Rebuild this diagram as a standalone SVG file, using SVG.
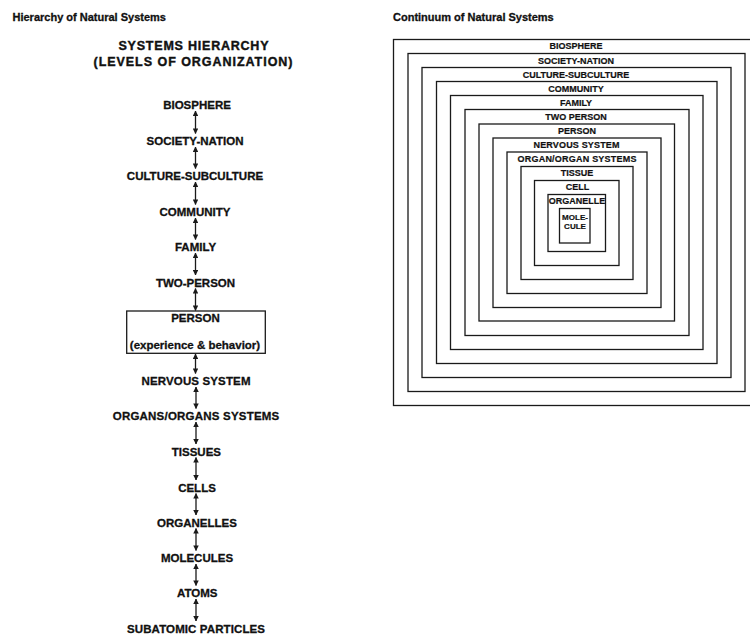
<svg xmlns="http://www.w3.org/2000/svg" width="750" height="634" viewBox="0 0 750 634">
<style>
  text { font-family: "Liberation Sans", Arial, sans-serif; font-weight: bold; fill: #111; stroke: #111; stroke-width: 0.3; }
  .title { font-size: 11px; }
  .head { font-size: 12.5px; text-anchor: middle; stroke-width: 0.4; }
  .lvl { font-size: 11.5px; text-anchor: middle; }
  .sq { font-size: 9px; text-anchor: middle; stroke-width: 0.2; }
  .sq8 { font-size: 8px; text-anchor: middle; stroke-width: 0.2; }
  .box { fill: none; stroke: #1a1a1a; stroke-width: 1.3; }
  .conn line { stroke: #1a1a1a; stroke-width: 1.3; marker-start: url(#ah); marker-end: url(#ah); }
</style>
<defs>
  <marker id="ah" viewBox="0 0 6 6" refX="5.5" refY="3" markerWidth="4.2" markerHeight="4.2" orient="auto-start-reverse" markerUnits="strokeWidth">
    <path d="M0,0 L6,3 L0,6 Z" fill="#1a1a1a"/>
  </marker>
</defs>
<rect width="750" height="634" fill="#fff"/>

<text class="title" x="12.5" y="21">Hierarchy of Natural Systems</text>
<text class="title" x="393" y="21">Continuum of Natural Systems</text>

<g id="hierarchy-title">
  <text class="head" x="193.5" y="49.5" textLength="150" lengthAdjust="spacing">SYSTEMS HIERARCHY</text>
  <text class="head" x="193" y="65.5" textLength="199" lengthAdjust="spacing">(LEVELS OF ORGANIZATION)</text>
</g>

<g id="h-biosphere"><text class="lvl" x="197" y="109">BIOSPHERE</text></g>
<g id="h-society-nation"><text class="lvl" x="195" y="145">SOCIETY-NATION</text></g>
<g id="h-culture"><text class="lvl" x="195" y="180">CULTURE-SUBCULTURE</text></g>
<g id="h-community"><text class="lvl" x="195" y="216">COMMUNITY</text></g>
<g id="h-family"><text class="lvl" x="195.5" y="251">FAMILY</text></g>
<g id="h-two-person"><text class="lvl" x="195.5" y="286.5">TWO-PERSON</text></g>
<g id="h-person">
  <rect class="box" x="126.7" y="311" width="138.6" height="42.3"/>
  <text class="lvl" x="195.5" y="321.5">PERSON</text>
  <text class="lvl" x="195" y="348.5">(experience &amp; behavior)</text>
</g>
<g id="h-nervous"><text class="lvl" x="196" y="385" textLength="109" lengthAdjust="spacing">NERVOUS SYSTEM</text></g>
<g id="h-organs"><text class="lvl" x="196" y="420" textLength="166.5" lengthAdjust="spacing">ORGANS/ORGANS SYSTEMS</text></g>
<g id="h-tissues"><text class="lvl" x="196.4" y="455.5">TISSUES</text></g>
<g id="h-cells"><text class="lvl" x="197" y="491.5">CELLS</text></g>
<g id="h-organelles"><text class="lvl" x="197" y="526.5">ORGANELLES</text></g>
<g id="h-molecules"><text class="lvl" x="197" y="562">MOLECULES</text></g>
<g id="h-atoms"><text class="lvl" x="197.3" y="597">ATOMS</text></g>
<g id="h-subatomic"><text class="lvl" x="196" y="632.5" textLength="138" lengthAdjust="spacing">SUBATOMIC PARTICLES</text></g>

<g id="connectors" class="conn">
  <line x1="195.5" y1="111" x2="195.5" y2="133.5"/>
  <line x1="195.5" y1="147" x2="195.5" y2="168.5"/>
  <line x1="195.5" y1="182" x2="195.5" y2="204.5"/>
  <line x1="195.5" y1="218" x2="195.5" y2="239.5"/>
  <line x1="195.5" y1="253" x2="195.5" y2="275"/>
  <line x1="195.5" y1="288.5" x2="195.5" y2="310.5"/>
  <line x1="195.5" y1="354" x2="195.5" y2="373.5"/>
  <line x1="196" y1="387" x2="196" y2="408.5"/>
  <line x1="196" y1="422" x2="196" y2="444"/>
  <line x1="196" y1="457.5" x2="196" y2="480"/>
  <line x1="196" y1="493.5" x2="196" y2="515"/>
  <line x1="196" y1="528.5" x2="196" y2="550.5"/>
  <line x1="196" y1="564" x2="196" y2="585.5"/>
  <line x1="196" y1="599" x2="196" y2="621"/>
</g>

<g id="c-biosphere"><rect class="box" x="393.5" y="39.5" width="365.5" height="366"/><text class="sq" x="576" y="49">BIOSPHERE</text></g>
<g id="c-society-nation"><rect class="box" x="408" y="53.5" width="337" height="338"/><text class="sq" x="576" y="63.5">SOCIETY-NATION</text></g>
<g id="c-culture"><rect class="box" x="422" y="67.5" width="309" height="310"/><text class="sq" x="576" y="77.5">CULTURE-SUBCULTURE</text></g>
<g id="c-community"><rect class="box" x="436.5" y="81.5" width="280.5" height="282"/><text class="sq" x="576" y="91.5">COMMUNITY</text></g>
<g id="c-family"><rect class="box" x="450.5" y="95.5" width="252.5" height="254"/><text class="sq" x="576" y="105.5">FAMILY</text></g>
<g id="c-two-person"><rect class="box" x="465" y="109.5" width="224" height="226"/><text class="sq" x="576" y="119.5">TWO PERSON</text></g>
<g id="c-person"><rect class="box" x="479" y="124" width="195.5" height="197"/><text class="sq" x="577" y="134">PERSON</text></g>
<g id="c-nervous"><rect class="box" x="493" y="138" width="168" height="169.5"/><text class="sq" x="576.5" y="147.5" textLength="86" lengthAdjust="spacing">NERVOUS SYSTEM</text></g>
<g id="c-organ"><rect class="box" x="507" y="152" width="140" height="141.5"/><text class="sq" x="577" y="161.7" textLength="119" lengthAdjust="spacing">ORGAN/ORGAN SYSTEMS</text></g>
<g id="c-tissue"><rect class="box" x="521" y="166.5" width="112" height="113"/><text class="sq" x="577" y="176">TISSUE</text></g>
<g id="c-cell"><rect class="box" x="534.5" y="180.5" width="84.5" height="85"/><text class="sq" x="577.5" y="189.5">CELL</text></g>
<g id="c-organelle"><rect class="box" x="548" y="194.5" width="57.5" height="57"/><text class="sq" x="577" y="203.5">ORGANELLE</text></g>
<g id="c-molecule"><rect class="box" x="559.5" y="208.5" width="30.5" height="34.5"/><text class="sq8" x="575" y="220">MOLE-</text><text class="sq8" x="575" y="229">CULE</text></g>
</svg>
